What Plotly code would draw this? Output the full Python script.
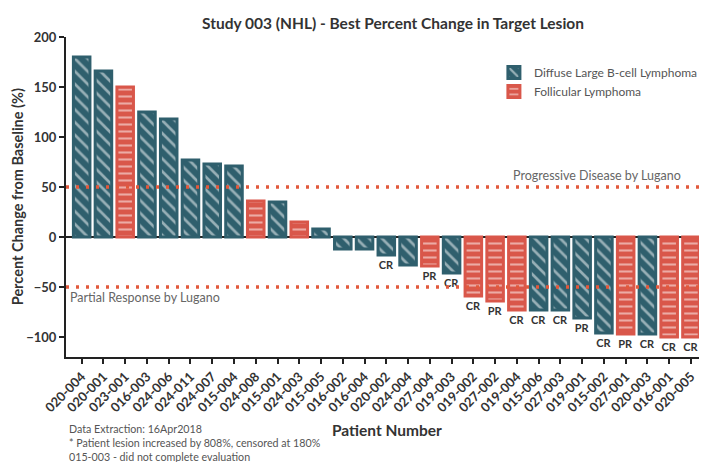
import plotly.graph_objects as go

patients = ["020-004", "020-001", "023-001", "016-003", "024-006", "024-011", "024-007",
            "015-004", "024-008", "015-001", "024-003", "015-005", "016-002", "016-004",
            "020-002", "024-004", "027-004", "019-003", "019-002", "027-002", "019-004",
            "015-006", "027-003", "019-001", "015-002", "027-001", "020-003", "016-001",
            "020-005"]
values = [180, 166, 150, 125, 118, 77, 73, 71, 36, 35, 15, 8, -12, -12,
          -18, -28, -29, -36, -59, -64, -73, -73, -73, -81, -96, -97, -97, -100, -100]
histology = ["D", "D", "F", "D", "D", "D", "D", "D", "F", "D", "F", "D", "D", "D",
             "D", "D", "F", "D", "F", "F", "F", "D", "D", "D", "D", "F", "D", "F", "F"]
responses = ["", "", "", "", "", "", "", "", "", "", "", "", "", "",
             "CR", "", "PR", "CR", "CR", "PR", "CR", "CR", "CR", "PR", "CR", "PR", "CR", "CR", "CR"]
y_ticks = [-100, -50, 0, 50, 100, 150, 200]

TEAL = "#2f5f6d"
RED = "#d9574a"
DOT = "#e2593c"
FONT = "Lato"

groups = [("Diffuse Large B-cell Lymphoma", "D", TEAL, "\\", 9),
          ("Follicular Lymphoma", "F", RED, "-", 7)]

fig = go.Figure()
for name, key, color, shape, psize in groups:
    idx = [i for i, h in enumerate(histology) if h == key]
    fig.add_bar(
        x=[patients[i] for i in idx],
        y=[values[i] for i in idx],
        text=[responses[i] for i in idx],
        name=name,
        marker=dict(color=color, line=dict(color=color, width=3),
                    pattern=dict(shape=shape, fgcolor="white", bgcolor=color,
                                 size=psize, solidity=0.3)),
        textposition="outside",
        constraintext="none",
        textfont=dict(family=FONT, size=11, color="#333", weight="bold"),
        cliponaxis=False,
    )

for yv in (50, -50):
    fig.add_shape(type="line", xref="paper", x0=0, x1=1, yref="y", y0=yv, y1=yv,
                  line=dict(color=DOT, width=3.5, dash="3px,7px"), layer="above")

annos = [
    dict(text="Study 003 (NHL) - Best Percent Change in Target Lesion", x=0.517, y=1.044,
         xref="paper", yref="paper", xanchor="center", yanchor="middle", showarrow=False,
         font=dict(family=FONT, size=15.5, color="#333", weight="bold")),
    dict(text="Percent Change from Baseline (%)", x=-0.077, y=0.5, textangle=-90,
         xref="paper", yref="paper", xanchor="center", yanchor="middle", showarrow=False,
         font=dict(family=FONT, size=14.5, color="#333", weight="bold")),
    dict(text="Patient Number", x=0.507, y=-0.228, xref="paper", yref="paper",
         xanchor="center", yanchor="middle", showarrow=False,
         font=dict(family=FONT, size=15.5, color="#333", weight="bold")),
    dict(text="Progressive Disease by Lugano", x=0.975, y=62, xref="paper", yref="y",
         xanchor="right", yanchor="middle", showarrow=False,
         font=dict(family=FONT, size=12.5, color="#666")),
    dict(text="Partial Response by Lugano", x=0.003, y=-60, xref="paper", yref="y",
         xanchor="left", yanchor="middle", showarrow=False,
         font=dict(family=FONT, size=12.5, color="#666")),
]
notes = ["Data Extraction: 16Apr2018",
         "* Patient lesion increased by 808%, censored at 180%",
         "015-003 - did not complete evaluation"]
for k, note in enumerate(notes):
    annos.append(dict(text=note, x=0.0016, y=-0.224 - 0.0437 * k, xref="paper", yref="paper",
                      xanchor="left", yanchor="middle", showarrow=False,
                      font=dict(family=FONT, size=10.7, color="#555")))

fig.update_layout(
    width=703, height=462,
    margin=dict(l=66, r=0, t=37, b=105),
    paper_bgcolor="white", plot_bgcolor="white",
    barmode="overlay", bargap=0.24,
    showlegend=True,
    legend=dict(x=0.676, y=0.934, xanchor="left", yanchor="top",
                font=dict(family=FONT, size=12, color="#555"),
                bgcolor="rgba(0,0,0,0)", tracegroupgap=0, itemwidth=30),
    annotations=annos,
    font=dict(family=FONT),
)
fig.update_xaxes(
    type="category", categoryorder="array", categoryarray=patients,
    range=[-0.72, 28.37], tickangle=-45,
    showline=True, linecolor="#222", linewidth=2,
    ticks="outside", ticklen=5, tickwidth=2, tickcolor="#222",
    showgrid=False, zeroline=False,
    tickfont=dict(family=FONT, size=13, color="#333", weight="bold"),
)
fig.update_yaxes(
    range=[-120, 200], tickvals=y_ticks,
    showline=True, linecolor="#222", linewidth=2,
    ticks="outside", ticklen=5, tickwidth=2, tickcolor="#222",
    showgrid=False, zeroline=True, zerolinecolor="#222", zerolinewidth=2,
    tickfont=dict(family=FONT, size=13, color="#333", weight="bold"),
)

fig.write_html("out.html", config={"displayModeBar": False},
               post_script="document.body.style.margin='0';")
